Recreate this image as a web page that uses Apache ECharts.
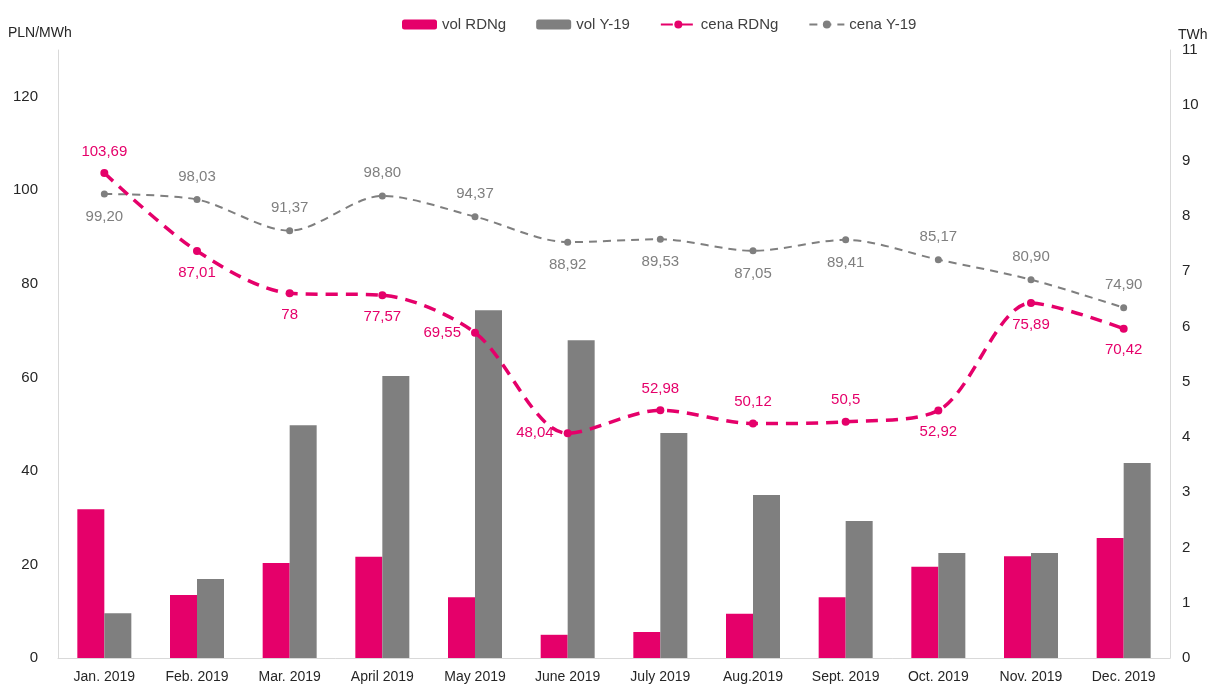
<!DOCTYPE html>
<html>
<head>
<meta charset="utf-8">
<script src="https://cdn.jsdelivr.net/npm/echarts@6/dist/echarts.min.js"></script>
<style>
  html, body { margin: 0; padding: 0; background: #fff; }
  #chart { width: 1213px; height: 686px; }
</style>
</head>
<body>
<div id="chart"></div>
<script>
const months = ["Jan. 2019", "Feb. 2019", "Mar. 2019", "April 2019", "May 2019", "June 2019",
  "July 2019", "Aug.2019", "Sept. 2019", "Oct. 2019", "Nov. 2019", "Dec. 2019"];

// volumes, TWh (right axis)
const volRdng = [2.69, 1.14, 1.72, 1.83, 1.10, 0.42, 0.47, 0.80, 1.10, 1.65, 1.84, 2.17];
const volY19 = [0.81, 1.43, 4.21, 5.10, 6.29, 5.75, 4.07, 2.95, 2.48, 1.90, 1.90, 3.53];

// prices, PLN/MWh (left axis)
const cenaRdng = [103.69, 87.01, 78, 77.57, 69.55, 48.04, 52.98, 50.12, 50.5, 52.92, 75.89, 70.42];
const cenaY19 = [99.20, 98.03, 91.37, 98.80, 94.37, 88.92, 89.53, 87.05, 89.41, 85.17, 80.90, 74.90];

// where each price label sits
const rdngLabelPos = ["top", "bottom", "bottom", "bottom", "left", "left",
  "top", "top", "top", "bottom", "bottom", "bottom"];
const y19LabelPos = ["bottom", "top", "top", "top", "top", "bottom",
  "bottom", "bottom", "bottom", "top", "top", "top"];

const PINK = "#e5006a";
const GREY = "#7f7f7f";
const FONT = "Liberation Sans";

const chart = echarts.init(document.getElementById("chart"), null, { renderer: "canvas" });

const rdngData = cenaRdng.map((v, i) => ({
  value: v,
  label: { position: rdngLabelPos[i] }
}));
const y19Data = cenaY19.map((v, i) => ({
  value: v,
  label: { position: y19LabelPos[i] }
}));

chart.setOption({
  animation: false,
  textStyle: { fontFamily: FONT },
  legend: {
    top: 12,
    left: 397,
    itemWidth: 35,
    itemHeight: 10,
    itemGap: 30,
    textStyle: { fontSize: 15, color: "#404040", fontFamily: FONT },
    data: ["vol RDNg", "vol Y-19", "cena RDNg", "cena Y-19"]
  },
  grid: { left: 58, right: 43, top: 50, bottom: 28 },
  xAxis: {
    type: "category",
    data: months,
    axisTick: { show: false },
    axisLine: { lineStyle: { color: "#d9d9d9" } },
    axisLabel: { color: "#262626", fontSize: 14, margin: 12, interval: 0, fontFamily: FONT }
  },
  yAxis: [
    {
      type: "value",
      min: 0,
      max: 130,
      interval: 20,
      name: "PLN/MWh",
      nameGap: 10,
      nameTextStyle: { color: "#262626", fontSize: 14, align: "left", padding: [0, 0, 0, -50], fontFamily: FONT },
      splitLine: { show: false },
      axisLine: { show: true, lineStyle: { color: "#d9d9d9" } },
      axisTick: { show: false },
      axisLabel: {
        color: "#262626", fontSize: 15, margin: 20, fontFamily: FONT,
        formatter: (v) => (v % 20 === 0 ? String(v) : "")
      }
    },
    {
      type: "value",
      min: 0,
      max: 11,
      interval: 1,
      name: "TWh",
      nameGap: 8,
      nameTextStyle: { color: "#262626", fontSize: 14, align: "left", padding: [0, 0, 0, 8], fontFamily: FONT },
      splitLine: { show: false },
      axisLine: { show: true, lineStyle: { color: "#d9d9d9" } },
      axisTick: { show: false },
      axisLabel: { color: "#262626", fontSize: 15, margin: 12, fontFamily: FONT }
    }
  ],
  series: [
    {
      name: "vol RDNg",
      type: "bar",
      yAxisIndex: 1,
      data: volRdng,
      barWidth: 27,
      barGap: "0%",
      itemStyle: { color: PINK }
    },
    {
      name: "vol Y-19",
      type: "bar",
      yAxisIndex: 1,
      data: volY19,
      barWidth: 27,
      barGap: "0%",
      itemStyle: { color: GREY }
    },
    {
      name: "cena RDNg",
      type: "line",
      yAxisIndex: 0,
      data: rdngData,
      smooth: 0.3,
      symbol: "circle",
      symbolSize: 8,
      itemStyle: { color: PINK },
      lineStyle: { color: PINK, width: 3.5, type: [12, 8] },
      label: {
        show: true,
        distance: 10,
        color: PINK,
        fontSize: 15,
        fontFamily: FONT,
        formatter: (p) => String(p.value).replace(".", ",")
      },
      z: 5
    },
    {
      name: "cena Y-19",
      type: "line",
      yAxisIndex: 0,
      data: y19Data,
      smooth: 0.3,
      symbol: "circle",
      symbolSize: 7,
      itemStyle: { color: GREY },
      lineStyle: { color: GREY, width: 2, type: [8, 6] },
      label: {
        show: true,
        distance: 12,
        color: GREY,
        fontSize: 15,
        fontFamily: FONT,
        formatter: (p) => p.value.toFixed(2).replace(".", ",")
      },
      z: 4
    }
  ]
});
</script>
</body>
</html>
